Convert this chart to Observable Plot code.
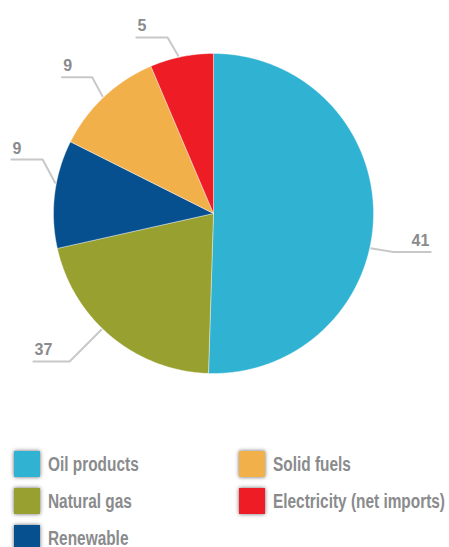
<!DOCTYPE html>
<html>
<head>
<meta charset="utf-8">
<script src="https://cdn.jsdelivr.net/npm/d3@7"></script>
<script src="https://cdn.jsdelivr.net/npm/@observablehq/plot@0.6"></script>
<style>
  html, body { margin: 0; padding: 0; background: #fff; overflow: hidden; }
  #chart { width: 449px; position: relative; overflow: hidden; }
  #chart svg { display: block; }
  .legend {
    display: grid;
    grid-auto-flow: column;
    grid-template-rows: repeat(3, 26px);
    grid-template-columns: 225px 210px;
    row-gap: 11px;
    padding-left: 14px;
    margin-top: 11px;
    height: 96px;
    font-family: "Liberation Sans", Arial, sans-serif;
    font-weight: bold;
    font-size: 20px;
    color: #8a8b8d;
  }
  .legend .item { display: flex; align-items: center; white-space: nowrap; overflow: visible; }
  .legend .sw { width: 26px; height: 26px; margin-right: 8px; box-shadow: 0 0 4px rgba(0,0,0,0.6); flex: none; }
  .legend .tx { display: inline-block; transform: scaleX(0.77); transform-origin: 0 50%; }
</style>
</head>
<body>
<div id="chart"></div>
<script>
// ---- data ----
const categories = ["Oil products", "Natural gas", "Renewable", "Solid fuels", "Electricity (net imports)"];
const shares = [50.5, 21.0, 10.9, 11.2, 6.4];          // slice sizes as drawn
const valueLabels = ["41", "37", "9", "9", "5"];        // printed labels
const colors = ["#30b2d2", "#98a02f", "#07508f", "#f2b04b", "#ed1c25"];

// ---- layout (leader lines) ----
const R = 160; // px per unit radius
const leaderNudge = [11.6, 4.4, 3.7, -0.3, -1.0];   // deg from slice middle
const leaderTwist = [-0.4, 0.2, 6.8, 1.8, -2.1];    // deg, elbow vs start
const leaderElbowR = [1.15, 1.29, 1.12, 1.14, 1.137];
const leaderRun = [38, 37, 32, 31, 32];             // px, horizontal part

const total = d3.sum(shares);
const rad = d => d * Math.PI / 180;
const polar = (deg, r) => ({x: r * Math.sin(rad(deg)), y: r * Math.cos(rad(deg))});

const wedges = [];
const leaders = [];
const labelPts = [];
let acc = 0;
categories.forEach((c, i) => {
  const a0 = acc / total * 360;
  acc += shares[i];
  const a1 = acc / total * 360;
  const n = Math.max(2, Math.ceil((a1 - a0) / 0.5));
  wedges.push({category: c, x: 0, y: 0});
  for (let k = 0; k <= n; k++) {
    const p = polar(a0 + (a1 - a0) * k / n, 1);
    wedges.push({category: c, x: p.x, y: p.y});
  }
  wedges.push({category: c, x: 0, y: 0});

  const mid = (a0 + a1) / 2;
  const sDeg = mid + leaderNudge[i];
  const s = polar(sDeg, 1.005);
  const e = polar(sDeg + leaderTwist[i], leaderElbowR[i]);
  const side = e.x >= 0 ? 1 : -1;
  const end = {x: e.x + side * leaderRun[i] / R, y: e.y};
  leaders.push({id: i, ...s}, {id: i, ...e}, {id: i, ...end});
  labelPts.push({
    label: valueLabels[i],
    side,
    x: end.x - side * 2 / R,
    y: end.y + 6 / R
  });
});

const font = "'Liberation Sans', Arial, sans-serif";

const plot = Plot.plot({
  width: 449,
  height: 440,
  margin: 0,
  x: {domain: [-213 / R, 236 / R], axis: null},
  y: {domain: [-227 / R, 213 / R], axis: null},
  color: {domain: categories, range: colors},
  style: {fontFamily: font, background: "white"},
  marks: [
    Plot.line(wedges, {x: "x", y: "y", z: "category", fill: "category", stroke: "white", strokeWidth: 0.4, curve: "linear"}),
    Plot.line(leaders, {x: "x", y: "y", z: "id", stroke: "#c8c8c8", strokeWidth: 2, strokeLinejoin: "miter", strokeLinecap: "butt"}),
    Plot.text(labelPts.filter(d => d.side < 0), {x: "x", y: "y", text: "label", textAnchor: "start", lineAnchor: "bottom", fontSize: 16, fontWeight: "bold", fill: "#8a8b8d", fontFamily: font}),
    Plot.text(labelPts.filter(d => d.side > 0), {x: "x", y: "y", text: "label", textAnchor: "end", lineAnchor: "bottom", fontSize: 16, fontWeight: "bold", fill: "#8a8b8d", fontFamily: font})
  ]
});

const chart = document.getElementById("chart");
chart.appendChild(plot);

const legend = document.createElement("div");
legend.className = "legend";
categories.forEach((c, i) => {
  const item = document.createElement("div");
  item.className = "item";
  const sw = document.createElement("span");
  sw.className = "sw";
  sw.style.background = colors[i];
  const t = document.createElement("span");
  t.className = "tx";
  t.textContent = c;
  item.appendChild(sw);
  item.appendChild(t);
  legend.appendChild(item);
});
chart.appendChild(legend);
</script>
</body>
</html>
